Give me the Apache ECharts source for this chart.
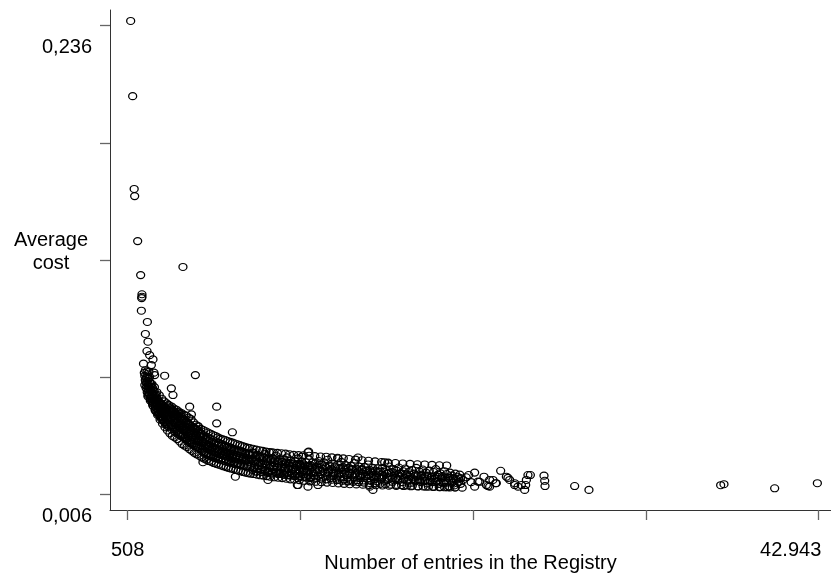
<!DOCTYPE html>
<html>
<head>
<meta charset="utf-8" />
<title>Average cost</title>
<script type="text/javascript" src="https://cdn.jsdelivr.net/npm/echarts@6/dist/echarts.min.js"></script>
<script type="text/javascript">
// axis ticks and labels
var xTickValues = [508, 11117, 21725, 32334, 42943];
var xLabelValues = [508, 42943];
var xLabelTexts = ['508', '42.943'];
var yTickValues = [0.006, 0.0635, 0.121, 0.1785, 0.236];
var yLabelValues = [0.006, 0.236];
var yLabelTexts = ['0,006', '0,236'];

// registries with very few entries (top of the curve)
var topPoints = [
  [692,0.2383],[815,0.2014],[907,0.1558],[938,0.1523],[1122,0.1302],[1306,0.1135],[3903,0.1175],
  [1386,0.1041],[1386,0.1029],[1368,0.1022],[1349,0.0960],[1718,0.0905],[1595,0.0846],[1755,0.0808],
  [1693,0.0762],[1859,0.0742],[2062,0.0721],[1963,0.0693],[1816,0.0660],[2123,0.0656],[2166,0.0644],
  [2780,0.0641],[4665,0.0644],[3190,0.0579],[3290,0.0546]
];

var headBand = [
  [1480,0.0700],[1530,0.0655],[1560,0.0640],[1600,0.0668],[1620,0.0610],[1650,0.0632],[1690,0.0590],[1700,0.0648],
  [1720,0.0615],[1750,0.0578],[1780,0.0600],[1800,0.0560],[1820,0.0628],[1850,0.0585],[1880,0.0550],[1900,0.0572],
  [1930,0.0600],[1960,0.0538],[1990,0.0560],[2010,0.0525],[2040,0.0580],[2060,0.0545],[2090,0.0510],[2110,0.0535],
  [2140,0.0565],[2170,0.0498],[2190,0.0522],[2220,0.0485],[2240,0.0548],[2270,0.0508],[2300,0.0478],[2320,0.0530],
  [2350,0.0492],[2380,0.0468],[2400,0.0515],[2430,0.0482],[2460,0.0455],[2480,0.0505],[2510,0.0472],[2540,0.0445],
  [2560,0.0495],[2590,0.0462],[2620,0.0438],[2650,0.0485],[2680,0.0452],[2700,0.0428],[2730,0.0478],[2760,0.0445],
  [2790,0.0420],[2810,0.0468],[2840,0.0438],[2870,0.0412],[2900,0.0462],[2930,0.0430],[2960,0.0405],[2990,0.0455],
  [3020,0.0470],[3050,0.0425],[3080,0.0450],[3110,0.0405],[3140,0.0482],[3170,0.0438],[3200,0.0395],[3230,0.0460],
  [3260,0.0420],[3290,0.0445],[3320,0.0388],[3350,0.0465],[3380,0.0412],[3410,0.0435],[3440,0.0378],[3470,0.0452],
  [3500,0.0402],[3530,0.0428],[3560,0.0370],[3590,0.0440],[3620,0.0395],[3650,0.0418],[3680,0.0362],[3710,0.0432],
  [3740,0.0385],[3770,0.0408],[3800,0.0355],[3830,0.0425],[3860,0.0378],[3890,0.0400],[3920,0.0348],[3950,0.0418],
  [3980,0.0370],[4010,0.0392],[4050,0.0340],[4080,0.0410],[4110,0.0362],[4150,0.0385],[4180,0.0333],[4210,0.0400],
  [4250,0.0355],[4280,0.0376],[4320,0.0326],[4350,0.0392],[4390,0.0348],[4420,0.0368],[4460,0.0318],[4500,0.0385],
  [4530,0.0340],[4570,0.0360],[4610,0.0310],[4650,0.0376],[4690,0.0332],[4730,0.0352],[4770,0.0302],[4810,0.0368],
  [4850,0.0325],[4890,0.0345],[4930,0.0295],[4970,0.0360]
];

var headBand2 = [
  [1560,0.0595],[1590,0.0620],[1640,0.0580],[1670,0.0605],[1710,0.0560],[1740,0.0632],[1770,0.0545],[1790,0.0588],
  [1830,0.0548],[1860,0.0610],[1890,0.0530],[1920,0.0562],[1950,0.0585],[1980,0.0515],[2000,0.0548],[2030,0.0505],
  [2070,0.0565],[2100,0.0490],[2130,0.0520],[2160,0.0545],[2200,0.0475],[2230,0.0505],[2260,0.0530],[2290,0.0462],
  [2330,0.0495],[2360,0.0520],[2390,0.0452],[2420,0.0490],[2450,0.0510],[2490,0.0440],[2520,0.0482],[2550,0.0505],
  [2580,0.0430],[2610,0.0475],[2640,0.0498],[2670,0.0422],[2710,0.0465],[2740,0.0490],[2770,0.0412],[2800,0.0455],
  [2830,0.0482],[2860,0.0402],[2890,0.0448],[2920,0.0475],[2950,0.0395],[2980,0.0438],[3010,0.0498],[3060,0.0390],
  [3090,0.0480],[3130,0.0430],[3160,0.0462],[3190,0.0378],[3240,0.0475],[3270,0.0398],[3300,0.0470],[3340,0.0420],
  [3370,0.0368],[3400,0.0458],[3430,0.0410],[3460,0.0362],[3490,0.0448],[3520,0.0385],[3550,0.0462],[3580,0.0412],
  [3610,0.0355],[3640,0.0445],[3670,0.0392],[3700,0.0350],[3730,0.0455],[3760,0.0400],[3790,0.0345],[3820,0.0440],
  [3850,0.0388],[3880,0.0340],[3910,0.0430],[3940,0.0380],[3970,0.0335],[4000,0.0425],[4030,0.0368],[4070,0.0330],
  [4100,0.0418],[4130,0.0375],[4170,0.0322],[4200,0.0410],[4230,0.0345],[4270,0.0315],[4300,0.0402],[4340,0.0360],
  [4370,0.0310],[4400,0.0395],[4440,0.0338],[4480,0.0305],[4520,0.0390],[4550,0.0325],[4590,0.0298],[4630,0.0382],
  [4670,0.0345],[4710,0.0292],[4750,0.0378],[4790,0.0318],[4830,0.0288],[4870,0.0372],[4910,0.0330],[4950,0.0282],
  [4990,0.0340]
];

var midBand = [
  [5010,0.0345],[5040,0.0300],[5070,0.0322],[5100,0.0270],[5130,0.0338],[5160,0.0295],[5190,0.0315],[5220,0.0262],
  [5250,0.0330],[5280,0.0288],[5310,0.0308],[5340,0.0255],[5370,0.0325],[5400,0.0282],[5430,0.0302],[5460,0.0250],
  [5490,0.0318],[5520,0.0276],[5550,0.0296],[5590,0.0245],[5620,0.0312],[5660,0.0270],[5700,0.0290],[5740,0.0240],
  [5780,0.0308],[5820,0.0265],[5860,0.0285],[5900,0.0236],[5940,0.0302],[5980,0.0260],[6020,0.0280],[6060,0.0232],
  [6100,0.0298],[6140,0.0256],[6180,0.0275],[6220,0.0228],[6260,0.0294],[6300,0.0252],[6340,0.0270],[6380,0.0224],
  [6420,0.0290],[6460,0.0248],[6500,0.0266],[6540,0.0220],[6580,0.0286],[6620,0.0244],[6660,0.0262],[6700,0.0216],
  [6740,0.0282],[6780,0.0240],[6820,0.0258],[6860,0.0212],[6900,0.0278],[6950,0.0236],[7000,0.0254],[7050,0.0208],
  [7100,0.0274],[7150,0.0232],[7200,0.0250],[7250,0.0205],[7300,0.0270],[7350,0.0228],[7400,0.0246],[7450,0.0202],
  [7500,0.0266],[7550,0.0225],[7600,0.0242],[7650,0.0198],[7700,0.0262],[7750,0.0221],[7800,0.0238],[7850,0.0195],
  [7900,0.0258],[7950,0.0218],
  [8040,0.0250],[8090,0.0205],[8130,0.0232],[8180,0.0178],[8220,0.0262],[8270,0.0215],[8310,0.0195],[8360,0.0240],
  [8400,0.0170],[8450,0.0225],[8490,0.0252],[8540,0.0200],[8580,0.0185],[8630,0.0235],[8670,0.0212],[8720,0.0168],
  [8760,0.0245],[8810,0.0192],[8850,0.0222],[8900,0.0178],[8940,0.0258],[8990,0.0205],[9030,0.0230],[9080,0.0165],
  [9120,0.0215],[9170,0.0240],[9210,0.0188],[9260,0.0172],[9300,0.0225],[9350,0.0200],[9390,0.0160],[9440,0.0235],
  [9480,0.0182],[9530,0.0212],[9570,0.0168],[9620,0.0248],[9660,0.0195],[9710,0.0220],[9750,0.0158],[9800,0.0205],
  [9840,0.0232],[9890,0.0178],[9930,0.0165],[9980,0.0218],[10020,0.0192],[10070,0.0155],[10110,0.0228],[10160,0.0175],
  [10200,0.0205],[10250,0.0162],[10290,0.0240],[10340,0.0188],[10380,0.0212],[10430,0.0152],[10470,0.0198],[10520,0.0225],
  [10560,0.0172],[10610,0.0160],[10650,0.0210],[10700,0.0185],[10740,0.0150],[10790,0.0222],[10830,0.0170],[10880,0.0200],
  [10920,0.0158],[10970,0.0235],[11010,0.0182],[11060,0.0208],[11100,0.0148],[11150,0.0195],[11190,0.0220],[11240,0.0168],
  [11280,0.0155],[11330,0.0205],[11370,0.0180],[11420,0.0145],[11460,0.0215],[11510,0.0165],[11550,0.0195],[11600,0.0152],
  [11640,0.0230],[11690,0.0178],[11730,0.0202],[11780,0.0142],[11820,0.0190],[11870,0.0215],[11910,0.0162],[11960,0.0150]
];

var midBand2 = [
  [5030,0.0355],[5090,0.0282],[5150,0.0318],[5210,0.0348],[5270,0.0268],[5330,0.0300],[5390,0.0340],[5450,0.0262],
  [5510,0.0290],[5570,0.0332],[5630,0.0255],[5690,0.0285],[5750,0.0325],[5810,0.0250],[5870,0.0278],[5930,0.0318],
  [5990,0.0245],[6050,0.0270],[6110,0.0312],[6170,0.0240],[6230,0.0262],[6290,0.0305],[6350,0.0236],[6410,0.0258],
  [6470,0.0298],[6530,0.0232],[6590,0.0255],[6650,0.0292],[6710,0.0228],[6770,0.0250],[6830,0.0288],[6890,0.0222],
  [6960,0.0245],[7020,0.0282],[7080,0.0218],[7140,0.0240],[7210,0.0278],[7270,0.0212],[7330,0.0236],[7390,0.0272],
  [7460,0.0208],[7520,0.0232],[7580,0.0268],[7640,0.0205],[7710,0.0228],[7770,0.0262],[7830,0.0200],[7890,0.0225],
  [7960,0.0258],[8020,0.0195],[8100,0.0228],[8170,0.0255],[8250,0.0188],[8320,0.0220],[8390,0.0248],[8470,0.0182],
  [8550,0.0215],[8620,0.0242],[8700,0.0178],[8780,0.0210],[8860,0.0238],[8930,0.0172],[9010,0.0205],[9090,0.0232],
  [9160,0.0168],[9240,0.0200],[9320,0.0228],[9400,0.0165],[9470,0.0198],[9550,0.0225],[9630,0.0162],[9700,0.0192],
  [9780,0.0220],[9860,0.0158],[9940,0.0190],[10010,0.0218],[10090,0.0155],[10170,0.0188],[10240,0.0215],[10320,0.0152],
  [10400,0.0185],[10480,0.0212],[10550,0.0150],[10630,0.0182],[10710,0.0210],[10780,0.0148],[10860,0.0180],[10940,0.0205],
  [11020,0.0145],[11090,0.0178],[11170,0.0202],[11250,0.0142],[11320,0.0175],[11400,0.0200],[11480,0.0140],[11560,0.0172],
  [11630,0.0198],[11710,0.0138],[11790,0.0170],[11870,0.0195],[11940,0.0135]
];

var lowBand = [
  [12020,0.0210],[12080,0.0168],[12130,0.0195],[12190,0.0148],[12240,0.0222],[12300,0.0178],[12350,0.0158],[12410,0.0205],
  [12460,0.0185],[12520,0.0140],[12570,0.0215],[12630,0.0165],[12680,0.0192],[12740,0.0150],[12790,0.0228],[12850,0.0175],
  [12900,0.0200],[12960,0.0138],[13010,0.0182],[13070,0.0210],[13120,0.0160],[13180,0.0148],[13230,0.0195],[13290,0.0172],
  [13340,0.0135],[13400,0.0205],[13450,0.0155],[13510,0.0185],[13560,0.0145],[13620,0.0218],[13670,0.0168],[13730,0.0192],
  [13780,0.0132],[13840,0.0178],[13890,0.0202],[13950,0.0152],[14000,0.0140],[14060,0.0188],[14110,0.0165],[14170,0.0130],
  [14220,0.0198],[14280,0.0150],[14330,0.0180],[14390,0.0142],[14440,0.0212],[14500,0.0162],[14550,0.0185],[14610,0.0128],
  [14660,0.0172],[14720,0.0195],[14770,0.0148],[14830,0.0138],[14880,0.0182],[14940,0.0158],[14990,0.0126],[15050,0.0192],
  [15100,0.0145],[15160,0.0175],[15210,0.0135],[15270,0.0205],[15320,0.0155],[15380,0.0178],[15430,0.0124],[15490,0.0165],
  [15540,0.0188],[15600,0.0142],[15650,0.0132],[15710,0.0175],[15760,0.0152],[15820,0.0122],[15870,0.0185],[15930,0.0140],
  [16030,0.0170],[16100,0.0135],[16160,0.0188],[16230,0.0150],[16300,0.0125],[16360,0.0178],[16430,0.0160],[16500,0.0130],
  [16560,0.0195],[16630,0.0145],[16700,0.0168],[16760,0.0120],[16830,0.0182],[16900,0.0155],[16960,0.0138],[17030,0.0175],
  [17100,0.0128],[17160,0.0190],[17230,0.0148],[17300,0.0162],[17360,0.0118],[17430,0.0172],[17500,0.0140],[17560,0.0185],
  [17630,0.0152],[17700,0.0125],[17760,0.0168],[17830,0.0145],[17900,0.0115],[17960,0.0178],[18030,0.0135],[18100,0.0160],
  [18160,0.0122],[18230,0.0188],[18300,0.0148],[18360,0.0132],[18430,0.0170],[18500,0.0118],[18560,0.0155],[18630,0.0180],
  [18700,0.0140],[18760,0.0125],[18830,0.0165],[18900,0.0112],[18960,0.0150],[19030,0.0175],[19100,0.0130],[19160,0.0145],
  [19230,0.0118],[19300,0.0168],[19360,0.0138],[19430,0.0182],[19500,0.0122],[19560,0.0155],[19630,0.0110],[19700,0.0162],
  [19760,0.0135],[19830,0.0148],[19900,0.0115],[19960,0.0172],[20030,0.0128],[20100,0.0158],[20160,0.0140],[20230,0.0098],
  [20300,0.0165],[20360,0.0125],[20430,0.0150],[20500,0.0135],[20560,0.0102],[20630,0.0160],[20700,0.0130],[20760,0.0145],
  [20830,0.0118],[20900,0.0155],[20960,0.0138]
];

var lowBand2 = [
  [12050,0.0140],[12160,0.0178],[12270,0.0205],[12380,0.0135],[12490,0.0172],[12600,0.0200],[12710,0.0132],[12820,0.0168],
  [12930,0.0195],[13040,0.0130],[13150,0.0165],[13260,0.0190],[13370,0.0128],[13480,0.0162],[13590,0.0188],[13700,0.0125],
  [13810,0.0160],[13920,0.0185],[14030,0.0122],[14140,0.0158],[14250,0.0182],[14360,0.0120],[14470,0.0155],[14580,0.0180],
  [14690,0.0118],[14800,0.0152],[14910,0.0178],[15020,0.0116],[15130,0.0150],[15240,0.0175],[15350,0.0114],[15460,0.0148],
  [15570,0.0172],[15680,0.0112],[15790,0.0145],[15900,0.0170],[16010,0.0110],[16120,0.0142],[16230,0.0168],[16340,0.0108],
  [16450,0.0140],[16560,0.0165],[16670,0.0106],[16780,0.0138],[16890,0.0162],[17000,0.0105],[17110,0.0135],[17220,0.0160],
  [17330,0.0104],[17440,0.0132],[17550,0.0158],[17660,0.0102],[17770,0.0130],[17880,0.0155],[17990,0.0100],[18100,0.0128],
  [18210,0.0152],[18320,0.0098],[18430,0.0126],[18540,0.0150],[18650,0.0097],[18760,0.0124],[18870,0.0148],[18980,0.0096],
  [19090,0.0122],[19200,0.0146],[19310,0.0095],[19420,0.0120],[19530,0.0145],[19640,0.0094],[19750,0.0118],[19860,0.0142],
  [19970,0.0093],[20080,0.0116],[20190,0.0140],[20300,0.0092],[20410,0.0115],[20520,0.0138],[20630,0.0092],[20740,0.0113],
  [20850,0.0136],[20960,0.0110]
];

// registries on the upper and lower rim of the band
var upperRim = [
  [1700,0.0662],[2000,0.0600],[2300,0.0560],[2600,0.0528],[2900,0.0505],[3200,0.0490],[3500,0.0474],[3800,0.0458],
  [4100,0.0445],[4400,0.0428],[4700,0.0400],[5000,0.0380],[5300,0.0368],[5600,0.0356],[5900,0.0345],[6200,0.0332],
  [6500,0.0325],[6800,0.0316],[7100,0.0308],[7400,0.0300],[7700,0.0292],[8000,0.0285],[8400,0.0278],[8800,0.0272],
  [9200,0.0266],[9700,0.0262],[10200,0.0258],[10700,0.0252],[11300,0.0250],[12000,0.0246],[12700,0.0243],[13400,0.0238],
  [14100,0.0232],[14900,0.0226],[15700,0.0220],[16500,0.0214],[17400,0.0210],[18300,0.0206],[19200,0.0203],[20100,0.0200],
  [1850,0.0635],[2150,0.0585],[2450,0.0545],[2750,0.0515],[3050,0.0495],[3350,0.0480],[3650,0.0465],[3950,0.0450],
  [4250,0.0435],[4550,0.0412],[4850,0.0390],[5150,0.0374],[5450,0.0362],[5750,0.0350],[6050,0.0338],[6350,0.0328],
  [6650,0.0320],[6950,0.0312],[7250,0.0304],[7550,0.0296],[7850,0.0288],[8200,0.0282],[8600,0.0275],[9000,0.0268],
  [9450,0.0264],[9950,0.0260],[10450,0.0255],[11000,0.0251],[11650,0.0248],[12350,0.0244],[13050,0.0240],[13750,0.0235],
  [14500,0.0229],[15300,0.0223],[16100,0.0217],[16950,0.0212],[17850,0.0208],[18750,0.0205],[19650,0.0201]
];

var lowerRim = [
  [1750,0.0540],[2050,0.0495],[2350,0.0448],[2650,0.0405],[2950,0.0372],[3250,0.0345],[3550,0.0330],[3850,0.0305],
  [4150,0.0290],[4450,0.0272],[4750,0.0255],[5050,0.0240],[5350,0.0228],[5650,0.0218],[5950,0.0208],[6250,0.0200],
  [6550,0.0192],[6850,0.0185],[7150,0.0178],[7450,0.0172],[7750,0.0165],[8050,0.0160],[8450,0.0155],[8850,0.0150],
  [9250,0.0145],[9750,0.0140],[10250,0.0135],[10750,0.0130],[11350,0.0125],[12050,0.0120],[12750,0.0116],[13450,0.0112],
  [14150,0.0108],[14950,0.0106],[15750,0.0103],[16550,0.0101],[17450,0.0099],[18350,0.0097],[19250,0.0095],[20150,0.0093],
  [21050,0.0091],
  [1900,0.0518],[2200,0.0470],[2500,0.0425],[2800,0.0388],[3100,0.0358],[3400,0.0338],[3700,0.0318],[4000,0.0298],
  [4300,0.0280],[4600,0.0262],[4900,0.0248],[5200,0.0234],[5500,0.0222],[5800,0.0212],[6100,0.0204],[6400,0.0196],
  [6700,0.0188],[7000,0.0182],[7300,0.0175],[7600,0.0168],[7900,0.0162],[8250,0.0158],[8650,0.0152],[9050,0.0148],
  [9500,0.0142],[10000,0.0138],[10500,0.0132],[11050,0.0128],[11700,0.0122],[12400,0.0118],[13100,0.0114],[13800,0.0110],
  [14550,0.0107],[15350,0.0104],[16150,0.0102],[17000,0.0100],[17900,0.0098],[18800,0.0096],[19700,0.0094],[20600,0.0092]
];

var tailPoints = [
  [21099,0.0129],[21300,0.0142],[21448,0.0153],[21600,0.0118],[21817,0.0165],[21817,0.0096],[22021,0.0121],[22124,0.0120],
  [22390,0.0145],[22536,0.0104],[22635,0.0099],[22738,0.0129],[22738,0.0096],[22940,0.0129],[23107,0.0113],[23146,0.0113],
  [23414,0.0174],[23764,0.0145],[23862,0.0139],[23967,0.0129],[24274,0.0113],[24274,0.0104],[24477,0.0096],[24686,0.0104],
  [24888,0.0080],[24950,0.0104],[24993,0.0129],[25090,0.0153],[25238,0.0153],[26075,0.0150],[26118,0.0125],[26137,0.0099]
];

// isolated registries away from the band
var strayPoints = [
  [4315,0.0489],[4420,0.0451],[4825,0.0394],[5974,0.0489],[5974,0.0407],[6938,0.0363],[5132,0.0216],[7122,0.0145],
  [9333,0.0265],[11580,0.0265],[11623,0.0268],[11212,0.0243],[13423,0.0235],[14650,0.0239],[16290,0.0216],[16490,0.0211],
  [10930,0.0104],[9124,0.0129],[10966,0.0104],[11580,0.0096],[12194,0.0104],[15369,0.0096],[15570,0.0080]
];

var farPoints = [
  [27958,0.0099],[28836,0.0080],[36924,0.0103],[37127,0.0108],[40240,0.0088],[42862,0.0113]
];

function pickLabel(values, texts, v) {
  for (var i = 0; i < values.length; i++) {
    if (Math.abs(values[i] - v) < 1e-6 * Math.max(1, Math.abs(v))) return texts[i];
  }
  return '';
}

window.onload = function () {
  var myChart = echarts.init(document.getElementById('container'));
  var font = "'Liberation Sans', Arial, sans-serif";
  var allPoints = topPoints.concat(headBand, headBand2, midBand, midBand2, lowBand, lowBand2,
    upperRim, lowerRim, tailPoints, strayPoints, farPoints);

  var option = {
    animation: false,
    grid: { left: 110, right: 0, top: 10, bottom: 69, containLabel: false, outerBoundsMode: 'none' },
    graphic: [{
      type: 'text',
      x: 51, y: 229,
      style: {
        text: 'Average\ncost',
        font: '20px ' + font,
        fill: '#000',
        align: 'center',
        lineHeight: 23
      }
    }],
    xAxis: {
      type: 'value',
      min: -577,
      max: 43700,
      name: 'Number of entries in the Registry',
      nameLocation: 'middle',
      nameGap: 43,
      nameMoveOverlap: false,
      nameTextStyle: { fontFamily: font, fontSize: 20, color: '#000' },
      splitLine: { show: false },
      axisLine: { onZero: false, lineStyle: { color: '#333', width: 1 } },
      axisTick: { customValues: xTickValues, length: 10, lineStyle: { color: '#666', width: 1.3 } },
      axisLabel: {
        customValues: xLabelValues,
        margin: 30,
        fontFamily: font, fontSize: 20, color: '#000',
        formatter: function (v) {
          var t = pickLabel(xLabelValues, xLabelTexts, v);
          return v === xLabelValues[xLabelValues.length - 1] ? '{r|' + t + '}' : t;
        },
        rich: { r: { fontFamily: font, fontSize: 20, color: '#000', padding: [0, 56, 0, 0] } }
      }
    },
    yAxis: {
      type: 'value',
      min: -0.00186,
      max: 0.2437,
      splitLine: { show: false },
      axisLine: { show: true, onZero: false, lineStyle: { color: '#333', width: 1 } },
      axisTick: { show: true, customValues: yTickValues, length: 10, lineStyle: { color: '#666', width: 1.3 } },
      axisLabel: {
        customValues: yLabelValues,
        margin: 18,
        formatter: function (v) {
          return '{a|' + pickLabel(yLabelValues, yLabelTexts, v) + '}';
        },
        rich: { a: { fontFamily: font, fontSize: 20, color: '#000', padding: [44, 0, 0, 0] } }
      }
    },
    series: [{
      type: 'scatter',
      data: allPoints,
      symbol: 'circle',
      symbolSize: [8, 7],
      itemStyle: { color: 'rgba(0,0,0,0)', borderColor: '#000', borderWidth: 1.2, opacity: 1 }
    }]
  };
  myChart.setOption(option);
};
</script>
</head>
<body style="margin: 0; background: #fff;">
  <div id="container" style="width: 831px; height: 579px;"></div>
</body>
</html>
